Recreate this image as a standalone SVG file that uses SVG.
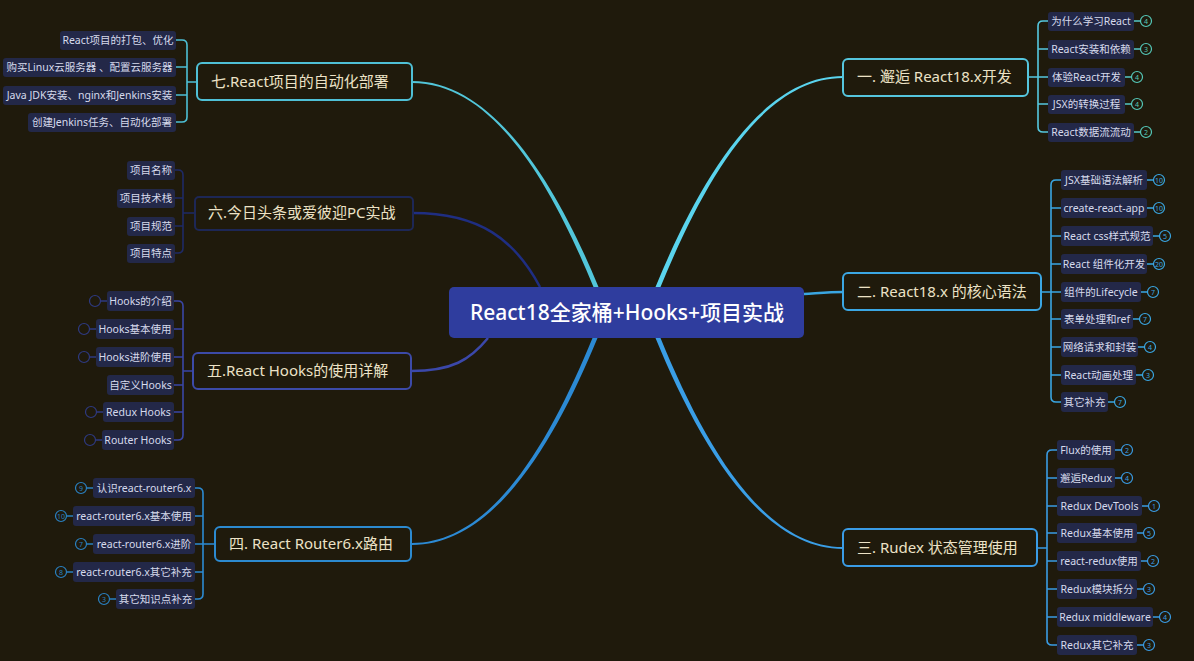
<svg xmlns="http://www.w3.org/2000/svg" width="1194" height="661" viewBox="0 0 1194 661">
<style>
text{font-family:"Noto Sans","Noto Sans CJK SC",sans-serif}
.bg{fill:#1f1a0c}
.main{fill:#1f1a0c;stroke-width:2}
.mt{font-size:15px;fill:#ece2c6}
.c{fill:#232848}
.ct{font-size:10.5px;fill:#d6daec;text-anchor:middle}
.br{fill:none;stroke-width:1.6}
.bd{fill:#1f1a0c;stroke-width:1.2}
.bt{font-size:7px;text-anchor:middle}
</style>
<rect class="bg" x="0" y="0" width="1194" height="661"/>

<g id="connectors">
  <!-- main tapered connectors -->
  <path d="M655.5,287 C697.5,185 759,76 843,76 L843,78 C761,78 702.5,185 660.5,287 Z" fill="#5ad4ee"/>
  <path d="M593.5,287 C551.5,185 494,83 412,83 L412,81 C494,81 556.5,185 598.5,287 Z" fill="#52c6da"/>
  <path d="M655.5,338 C697.5,440 759,549 843,549 L843,547 C761,547 702.5,440 660.5,338 Z" fill="#3a9ee6"/>
  <path d="M592.5,338 C550.5,440 493,543 412,543 L412,545 C495,545 555.5,440 597.5,338 Z" fill="#2c8ad4"/>
  <path d="M804,294 C820,293 830,292 843,292" fill="none" stroke="#3aa6e2" stroke-width="2.5"/>
  <path d="M488,338 C470,360 452,371 411,371" fill="none" stroke="#3b48aa" stroke-width="2.5"/>
  <path d="M540,287 C515,240 480,213 413,213" fill="none" stroke="#1f2e82" stroke-width="2.5"/>
  <!-- brackets -->
  <path class="br" stroke="#55c8e0" d="M1028,77 H1048 M1048,21 H1043 Q1038,21 1038,26 V127 Q1038,132 1043,132 H1048 M1038,49 H1048 M1038,104 H1048"/>
  <path class="br" stroke="#3aa6e2" d="M1041,292 H1061 M1061,180 H1056 Q1051,180 1051,185 V397 Q1051,402 1056,402 H1061 M1051,208 H1061 M1051,236 H1061 M1051,264 H1061 M1051,319 H1061 M1051,347 H1061 M1051,375 H1061"/>
  <path class="br" stroke="#3a9ce4" d="M1037,548 H1047 M1057,450 H1052 Q1047,450 1047,455 V640 Q1047,645 1052,645 H1057 M1047,478 H1057 M1047,506 H1057 M1047,533 H1057 M1047,561 H1057 M1047,589 H1057 M1047,617 H1057"/>
  <path class="br" stroke="#4dc0d6" d="M197,82 H187 M176,40 H182 Q187,40 187,45 V117 Q187,122 182,122 H176 M187,67 H176 M187,95 H176"/>
  <path class="br" stroke="#1e2a66" d="M195,213 H183 M175,170 H178 Q183,170 183,175 V248 Q183,253 178,253 H175 M183,198 H175 M183,226 H175"/>
  <path class="br" stroke="#3a46a6" d="M193,371 H183 M174,301 H178 Q183,301 183,306 V435 Q183,440 178,440 H174 M183,329 H174 M183,357 H174 M183,385 H174 M183,412 H174"/>
  <path class="br" stroke="#2c8ad2" d="M215,544 H195 M195,488 H198 Q203,488 203,493 V594 Q203,599 198,599 H195 M203,516 H195 M203,572 H195"/>
  <!-- badge stubs -->
  <path class="br" stroke="#55c8c8" d="M1134,21 H1141 M1134,49 H1141 M1125,77 H1132 M1125,104 H1132 M1134,132 H1141"/>
  <path class="br" stroke="#3aa6e2" d="M1147,180 H1154 M1147,208 H1154 M1153,236 H1160 M1147,264 H1154 M1141,292 H1148 M1133,319 H1140 M1138,347 H1145 M1136,375 H1143 M1108,402 H1115"/>
  <path class="br" stroke="#3a9ce4" d="M1115,450 H1122 M1115,478 H1122 M1142,506 H1149 M1137,533 H1144 M1141,561 H1148 M1137,589 H1144 M1153,617 H1160 M1137,645 H1144"/>
  <path class="br" stroke="#2e3a80" d="M107,301 H100 M96,329 H89 M96,357 H89 M103,412 H96 M102,440 H95"/>
  <path class="br" stroke="#2a80c0" d="M93,488 H86 M73,516 H66 M93,544 H86 M73,572 H66 M116,599 H109"/>
</g>

<g id="center">
  <rect x="449" y="287" width="355" height="51" rx="5" fill="#2f3d9e"/>
  <text x="627" y="320" font-size="21" font-weight="500" fill="#ffffff" text-anchor="middle">React18全家桶+Hooks+项目实战</text>
</g>

<!-- Branch 1 -->
<g id="b1">
  <rect class="main" x="843" y="59" width="185" height="37" rx="5" stroke="#55c6de"/>
  <text class="mt" x="857" y="82">一. 邂逅 React18.x开发</text>
</g>
<g id="b1c1"><rect class="c" x="1048" y="12" width="86" height="19" rx="3"/><text class="ct" x="1091" y="25">为什么学习React</text><circle class="bd" cx="1146" cy="21" r="5.5" stroke="#55c8b8"/><text class="bt" x="1146" y="23.5" fill="#55c8b8">4</text></g>
<g id="b1c2"><rect class="c" x="1048" y="40" width="86" height="19" rx="3"/><text class="ct" x="1091" y="53">React安装和依赖</text><circle class="bd" cx="1146" cy="49" r="5.5" stroke="#55c8b8"/><text class="bt" x="1146" y="51.5" fill="#55c8b8">3</text></g>
<g id="b1c3"><rect class="c" x="1048" y="68" width="77" height="19" rx="3"/><text class="ct" x="1086.5" y="81">体验React开发</text><circle class="bd" cx="1137" cy="77" r="5.5" stroke="#55c8b8"/><text class="bt" x="1137" y="79.5" fill="#55c8b8">4</text></g>
<g id="b1c4"><rect class="c" x="1048" y="95" width="77" height="19" rx="3"/><text class="ct" x="1086.5" y="108">JSX的转换过程</text><circle class="bd" cx="1137" cy="104" r="5.5" stroke="#55c8b8"/><text class="bt" x="1137" y="106.5" fill="#55c8b8">4</text></g>
<g id="b1c5"><rect class="c" x="1048" y="123" width="86" height="19" rx="3"/><text class="ct" x="1091" y="136">React数据流流动</text><circle class="bd" cx="1146" cy="132" r="5.5" stroke="#55c8b8"/><text class="bt" x="1146" y="134.5" fill="#55c8b8">2</text></g>

<!-- Branch 2 -->
<g id="b2">
  <rect class="main" x="843" y="273" width="198" height="37" rx="5" stroke="#3ba7e4"/>
  <text class="mt" x="857" y="297">二. React18.x 的核心语法</text>
</g>
<g id="b2c1"><rect class="c" x="1061" y="170" width="86" height="20" rx="3"/><text class="ct" x="1104" y="184">JSX基础语法解析</text><circle class="bd" cx="1159" cy="180" r="5.5" stroke="#3aa6e2"/><text class="bt" x="1159" y="182.5" fill="#3aa6e2">10</text></g>
<g id="b2c2"><rect class="c" x="1061" y="198" width="86" height="20" rx="3"/><text class="ct" x="1104" y="212">create-react-app</text><circle class="bd" cx="1159" cy="208" r="5.5" stroke="#3aa6e2"/><text class="bt" x="1159" y="210.5" fill="#3aa6e2">10</text></g>
<g id="b2c3"><rect class="c" x="1061" y="226" width="92" height="20" rx="3"/><text class="ct" x="1107" y="240">React css样式规范</text><circle class="bd" cx="1165" cy="236" r="5.5" stroke="#3aa6e2"/><text class="bt" x="1165" y="238.5" fill="#3aa6e2">5</text></g>
<g id="b2c4"><rect class="c" x="1061" y="254" width="86" height="20" rx="3"/><text class="ct" x="1104" y="268">React 组件化开发</text><circle class="bd" cx="1159" cy="264" r="5.5" stroke="#3aa6e2"/><text class="bt" x="1159" y="266.5" fill="#3aa6e2">20</text></g>
<g id="b2c5"><rect class="c" x="1061" y="282" width="80" height="20" rx="3"/><text class="ct" x="1101" y="296">组件的Lifecycle</text><circle class="bd" cx="1153" cy="292" r="5.5" stroke="#3aa6e2"/><text class="bt" x="1153" y="294.5" fill="#3aa6e2">7</text></g>
<g id="b2c6"><rect class="c" x="1061" y="309" width="72" height="20" rx="3"/><text class="ct" x="1097" y="323">表单处理和ref</text><circle class="bd" cx="1145" cy="319" r="5.5" stroke="#3aa6e2"/><text class="bt" x="1145" y="321.5" fill="#3aa6e2">7</text></g>
<g id="b2c7"><rect class="c" x="1061" y="337" width="77" height="20" rx="3"/><text class="ct" x="1099.5" y="351">网络请求和封装</text><circle class="bd" cx="1150" cy="347" r="5.5" stroke="#3aa6e2"/><text class="bt" x="1150" y="349.5" fill="#3aa6e2">4</text></g>
<g id="b2c8"><rect class="c" x="1061" y="365" width="75" height="20" rx="3"/><text class="ct" x="1098.5" y="379">React动画处理</text><circle class="bd" cx="1148" cy="375" r="5.5" stroke="#3aa6e2"/><text class="bt" x="1148" y="377.5" fill="#3aa6e2">3</text></g>
<g id="b2c9"><rect class="c" x="1061" y="392" width="47" height="20" rx="3"/><text class="ct" x="1084.5" y="406">其它补充</text><circle class="bd" cx="1120" cy="402" r="5.5" stroke="#3aa6e2"/><text class="bt" x="1120" y="404.5" fill="#3aa6e2">7</text></g>

<!-- Branch 3 -->
<g id="b3">
  <rect class="main" x="843" y="529" width="194" height="37" rx="5" stroke="#3a9ce6"/>
  <text class="mt" x="857" y="553">三. Rudex 状态管理使用</text>
</g>
<g id="b3c1"><rect class="c" x="1057" y="440" width="58" height="20" rx="3"/><text class="ct" x="1086" y="454">Flux的使用</text><circle class="bd" cx="1127" cy="450" r="5.5" stroke="#3a9ce4"/><text class="bt" x="1127" y="452.5" fill="#3a9ce4">2</text></g>
<g id="b3c2"><rect class="c" x="1057" y="468" width="58" height="20" rx="3"/><text class="ct" x="1086" y="482">邂逅Redux</text><circle class="bd" cx="1127" cy="478" r="5.5" stroke="#3a9ce4"/><text class="bt" x="1127" y="480.5" fill="#3a9ce4">4</text></g>
<g id="b3c3"><rect class="c" x="1057" y="496" width="85" height="20" rx="3"/><text class="ct" x="1099.5" y="510">Redux DevTools</text><circle class="bd" cx="1154" cy="506" r="5.5" stroke="#3a9ce4"/><text class="bt" x="1154" y="508.5" fill="#3a9ce4">1</text></g>
<g id="b3c4"><rect class="c" x="1057" y="523" width="80" height="20" rx="3"/><text class="ct" x="1097" y="537">Redux基本使用</text><circle class="bd" cx="1149" cy="533" r="5.5" stroke="#3a9ce4"/><text class="bt" x="1149" y="535.5" fill="#3a9ce4">5</text></g>
<g id="b3c5"><rect class="c" x="1057" y="551" width="84" height="20" rx="3"/><text class="ct" x="1099" y="565">react-redux使用</text><circle class="bd" cx="1153" cy="561" r="5.5" stroke="#3a9ce4"/><text class="bt" x="1153" y="563.5" fill="#3a9ce4">2</text></g>
<g id="b3c6"><rect class="c" x="1057" y="579" width="80" height="20" rx="3"/><text class="ct" x="1097" y="593">Redux模块拆分</text><circle class="bd" cx="1149" cy="589" r="5.5" stroke="#3a9ce4"/><text class="bt" x="1149" y="591.5" fill="#3a9ce4">3</text></g>
<g id="b3c7"><rect class="c" x="1057" y="607" width="96" height="20" rx="3"/><text class="ct" x="1105" y="621">Redux middleware</text><circle class="bd" cx="1165" cy="617" r="5.5" stroke="#3a9ce4"/><text class="bt" x="1165" y="619.5" fill="#3a9ce4">4</text></g>
<g id="b3c8"><rect class="c" x="1057" y="635" width="80" height="20" rx="3"/><text class="ct" x="1097" y="649">Redux其它补充</text><circle class="bd" cx="1149" cy="645" r="5.5" stroke="#3a9ce4"/><text class="bt" x="1149" y="647.5" fill="#3a9ce4">3</text></g>

<!-- Branch 7 -->
<g id="b7">
  <rect class="main" x="197" y="63" width="215" height="37" rx="5" stroke="#4fc0d6"/>
  <text class="mt" x="211" y="87">七.React项目的自动化部署</text>
</g>
<g id="b7c1"><rect class="c" x="60" y="31" width="116" height="19" rx="3"/><text class="ct" x="118" y="44">React项目的打包、优化</text></g>
<g id="b7c2"><rect class="c" x="3" y="58" width="173" height="19" rx="3"/><text class="ct" x="89.5" y="71">购买Linux云服务器 、配置云服务器</text></g>
<g id="b7c3"><rect class="c" x="3" y="86" width="173" height="19" rx="3"/><text class="ct" x="89.5" y="99">Java JDK安装、nginx和Jenkins安装</text></g>
<g id="b7c4"><rect class="c" x="28" y="113" width="148" height="19" rx="3"/><text class="ct" x="102" y="126">创建Jenkins任务、自动化部署</text></g>

<!-- Branch 6 -->
<g id="b6">
  <rect class="main" x="195" y="197" width="218" height="33" rx="4" stroke="#1d2756"/>
  <text class="mt" x="208" y="218">六.今日头条或爱彼迎PC实战</text>
</g>
<g id="b6c1"><rect class="c" x="127" y="161" width="48" height="19" rx="3"/><text class="ct" x="151" y="174">项目名称</text></g>
<g id="b6c2"><rect class="c" x="117" y="189" width="58" height="19" rx="3"/><text class="ct" x="146" y="202">项目技术栈</text></g>
<g id="b6c3"><rect class="c" x="127" y="217" width="48" height="19" rx="3"/><text class="ct" x="151" y="230">项目规范</text></g>
<g id="b6c4"><rect class="c" x="127" y="244" width="48" height="19" rx="3"/><text class="ct" x="151" y="257">项目特点</text></g>

<!-- Branch 5 -->
<g id="b5">
  <rect class="main" x="193" y="353" width="218" height="36" rx="5" stroke="#3c4aa8"/>
  <text class="mt" x="207" y="376">五.React Hooks的使用详解</text>
</g>
<g id="b5c1"><rect class="c" x="107" y="291" width="67" height="20" rx="3"/><text class="ct" x="140.5" y="305">Hooks的介绍</text><circle class="bd" cx="95" cy="301" r="5.5" stroke="#2e3a80"/></g>
<g id="b5c2"><rect class="c" x="96" y="319" width="78" height="20" rx="3"/><text class="ct" x="135" y="333">Hooks基本使用</text><circle class="bd" cx="84" cy="329" r="5.5" stroke="#2e3a80"/></g>
<g id="b5c3"><rect class="c" x="96" y="347" width="78" height="20" rx="3"/><text class="ct" x="135" y="361">Hooks进阶使用</text><circle class="bd" cx="84" cy="357" r="5.5" stroke="#2e3a80"/></g>
<g id="b5c4"><rect class="c" x="107" y="375" width="67" height="20" rx="3"/><text class="ct" x="140.5" y="389">自定义Hooks</text></g>
<g id="b5c5"><rect class="c" x="103" y="402" width="71" height="20" rx="3"/><text class="ct" x="138.5" y="416">Redux Hooks</text><circle class="bd" cx="91" cy="412" r="5.5" stroke="#2e3a80"/></g>
<g id="b5c6"><rect class="c" x="102" y="430" width="72" height="20" rx="3"/><text class="ct" x="138" y="444">Router Hooks</text><circle class="bd" cx="90" cy="440" r="5.5" stroke="#2e3a80"/></g>

<!-- Branch 4 -->
<g id="b4">
  <rect class="main" x="215" y="527" width="196" height="34" rx="5" stroke="#2c8ad0"/>
  <text class="mt" x="229" y="549">四. React Router6.x路由</text>
</g>
<g id="b4c1"><rect class="c" x="93" y="478" width="102" height="20" rx="3"/><text class="ct" x="144" y="492">认识react-router6.x</text><circle class="bd" cx="81" cy="488" r="5.5" stroke="#2a80c0"/><text class="bt" x="81" y="490.5" fill="#2a80c0">9</text></g>
<g id="b4c2"><rect class="c" x="73" y="506" width="122" height="20" rx="3"/><text class="ct" x="134" y="520">react-router6.x基本使用</text><circle class="bd" cx="61" cy="516" r="5.5" stroke="#2a80c0"/><text class="bt" x="61" y="518.5" fill="#2a80c0">10</text></g>
<g id="b4c3"><rect class="c" x="93" y="534" width="102" height="20" rx="3"/><text class="ct" x="144" y="548">react-router6.x进阶</text><circle class="bd" cx="81" cy="544" r="5.5" stroke="#2a80c0"/><text class="bt" x="81" y="546.5" fill="#2a80c0">7</text></g>
<g id="b4c4"><rect class="c" x="73" y="562" width="122" height="20" rx="3"/><text class="ct" x="134" y="576">react-router6.x其它补充</text><circle class="bd" cx="61" cy="572" r="5.5" stroke="#2a80c0"/><text class="bt" x="61" y="574.5" fill="#2a80c0">8</text></g>
<g id="b4c5"><rect class="c" x="116" y="589" width="79" height="20" rx="3"/><text class="ct" x="155.5" y="603">其它知识点补充</text><circle class="bd" cx="104" cy="599" r="5.5" stroke="#2a80c0"/><text class="bt" x="104" y="601.5" fill="#2a80c0">3</text></g>
</svg>
